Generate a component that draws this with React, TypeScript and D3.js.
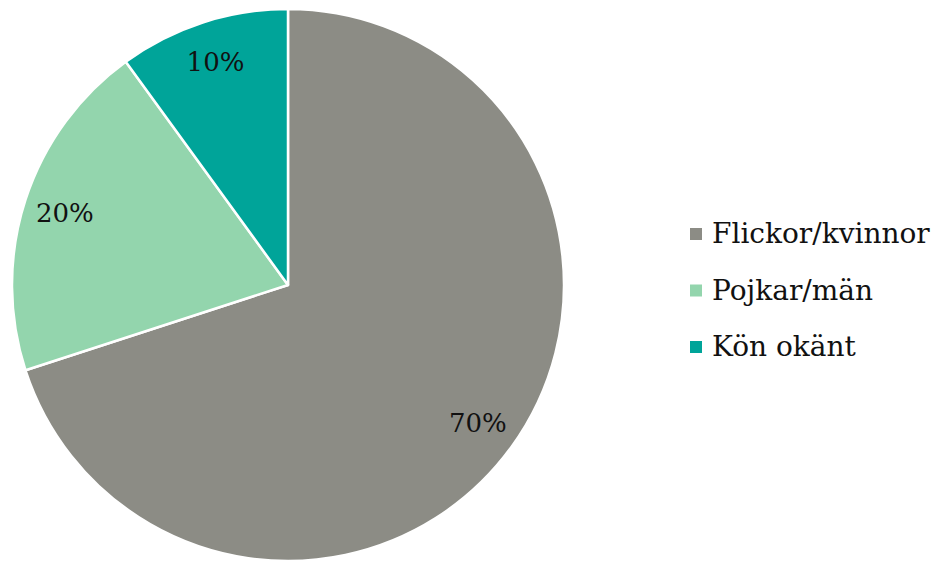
import * as d3 from "d3";
import React from "react";

const categories = ["Flickor/kvinnor", "Pojkar/män", "Kön okänt"];
const values = [70, 20, 10];
const colors = ["#8c8c85", "#93d5ad", "#00a499"];

const WIDTH = 938;
const HEIGHT = 561;
const FONT = "'DejaVu Serif', Georgia, serif";

export default function App() {
	const svgRef = React.useRef<SVGSVGElement>(null);

	React.useEffect(() => {
		if (!svgRef.current) return;
		const svg = d3.select(svgRef.current);
		svg.selectAll("*").remove();

		const cx = 288;
		const cy = 285;
		const radius = 276;

		const pie = d3
			.pie<number>()
			.sort(null)
			.value((d) => d);
		const arcs = pie(values);

		const arc = d3.arc<d3.PieArcDatum<number>>().innerRadius(0).outerRadius(radius);
		const labelArc = d3
			.arc<d3.PieArcDatum<number>>()
			.innerRadius(radius * 0.85)
			.outerRadius(radius * 0.85);

		const g = svg.append("g").attr("transform", `translate(${cx},${cy})`);

		g.selectAll("path")
			.data(arcs)
			.join("path")
			.attr("d", arc)
			.attr("fill", (_, i) => colors[i])
			.attr("stroke", "#fff")
			.attr("stroke-width", 2.5)
			.attr("stroke-linejoin", "round");

		g.selectAll("text.lbl")
			.data(arcs)
			.join("text")
			.attr("class", "lbl")
			.attr("x", (d) => labelArc.centroid(d)[0])
			.attr("y", (d) => labelArc.centroid(d)[1])
			.attr("text-anchor", "middle")
			.attr("dominant-baseline", "central")
			.attr("font-family", FONT)
			.attr("font-size", 26)
			.attr("fill", "#111")
			.text((d) => `${d.data}%`);

		// legend
		const legend = svg.append("g").attr("transform", "translate(690,234)");
		categories.forEach((c, i) => {
			const row = legend.append("g").attr("transform", `translate(0,${i * 56.5})`);
			row.append("rect")
				.attr("x", 0)
				.attr("y", -6)
				.attr("width", 12)
				.attr("height", 12)
				.attr("fill", colors[i]);
			row.append("text")
				.attr("x", 22)
				.attr("y", 9)
				.attr("font-family", FONT)
				.attr("font-size", 28)
				.attr("fill", "#111")
				.text(c);
		});
	}, []);

	return (
		<svg
			ref={svgRef}
			width={WIDTH}
			height={HEIGHT}
			style={{ position: "absolute", left: 0, top: 0, background: "#fff" }}
		/>
	);
}
